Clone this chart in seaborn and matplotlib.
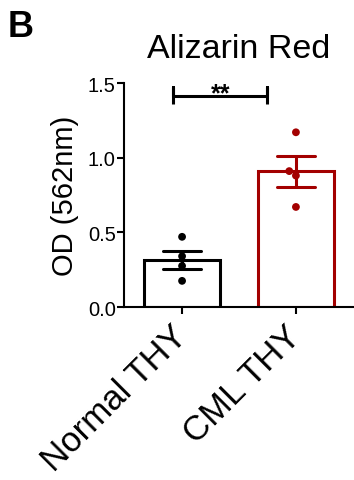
"""
Alizarin Red staining, OD at 562nm (panel B)
"""
import pandas as pd
import matplotlib
matplotlib.use('Agg')
import matplotlib.pyplot as plt
import seaborn as sns

sns.set_style('ticks', {'axes.edgecolor': 'black', 'text.color': 'black',
                        'xtick.color': 'black', 'ytick.color': 'black',
                        'axes.labelcolor': 'black'})
plt.rcParams['font.family'] = ['Liberation Sans', 'DejaVu Sans']

# data
groups = ['Normal THY', 'CML THY']
normal_od = [0.47, 0.34, 0.275, 0.175]
cml_od = [1.17, 0.91, 0.88, 0.67]
colors = ['black', '#A30000']

# significance bracket
sig_x = [-0.08, 0.75]
sig_y = 1.415
sig_label = '**'

df = pd.DataFrame({
    'group': [groups[0]] * len(normal_od) + [groups[1]] * len(cml_od),
    'od': normal_od + cml_od,
})
palette = dict(zip(groups, colors))

fig = plt.figure(figsize=(3.54, 4.81), dpi=100)
ax = fig.add_axes([124 / 354, 1 - 308 / 481, 230 / 354, 224 / 481])

# bars + SEM error bars, one group at a time so each keeps its colour
for g in groups:
    sub = df[df['group'] == g]
    sns.barplot(data=sub, x='group', y='od', order=groups, ax=ax,
                errorbar='se', capsize=0.34, width=0.66, fill=False,
                color=palette[g], linewidth=2.2,
                err_kws={'color': palette[g], 'linewidth': 2.2})

sns.swarmplot(data=df, x='group', y='od', order=groups, hue='group',
              palette=palette, size=5.6, ax=ax, legend=False, zorder=5)

# bracket
ax.plot([sig_x[0], sig_x[0], sig_x[0], sig_x[1], sig_x[1], sig_x[1]],
        [sig_y - 0.055, sig_y + 0.055, sig_y, sig_y, sig_y + 0.055, sig_y - 0.055],
        color='black', linewidth=2.2, clip_on=False, solid_capstyle='butt')
ax.text(sum(sig_x) / 2, sig_y - 0.03, sig_label, ha='center', va='baseline',
        fontsize=18, fontweight='bold', clip_on=False)

ax.set_ylim(0, 1.5)
ax.set_xlim(-0.51, 1.51)
ax.set_yticks([0, 0.5, 1.0, 1.5])
ax.set_yticklabels(['0.0', '0.5', '1.0', '1.5'], fontsize=14.5)
ax.set_xlabel('')
ax.set_ylabel('OD (562nm)', fontsize=21, labelpad=6)
ax.set_title('Alizarin Red', fontsize=24.5, pad=19)

ax.tick_params(axis='y', length=5, width=1.5, pad=1)
ax.tick_params(axis='x', length=5, width=1.5, pad=12)
plt.setp(ax.get_xticklabels(), rotation=45, ha='right', va='center',
         rotation_mode='anchor', fontsize=25)
for s in ['left', 'bottom']:
    ax.spines[s].set_linewidth(1.5)
sns.despine(ax=ax)

fig.text(8 / 354, 1 - 37 / 481, 'B', fontsize=26, fontweight='bold',
         ha='left', va='baseline')

plt.savefig('out.png', dpi=100)
plt.close()
